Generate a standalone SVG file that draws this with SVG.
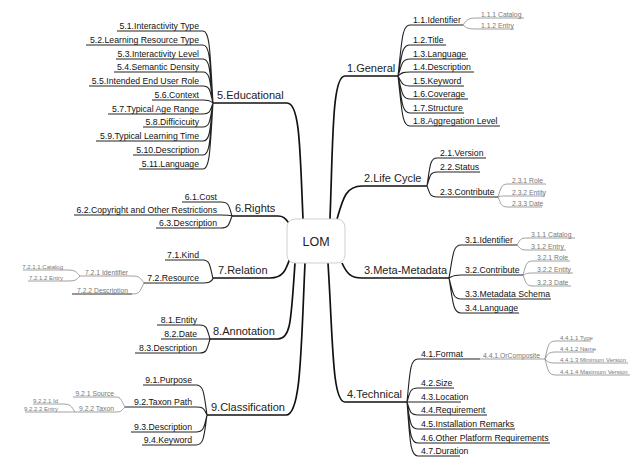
<svg xmlns="http://www.w3.org/2000/svg" width="635" height="457" viewBox="0 0 635 457">
<style>
text{font-family:"Liberation Sans",Arial,sans-serif}
.m{font-size:11px;fill:#222}
.s{font-size:8.7px;fill:#111}
.ss{font-size:6.8px;fill:#777}
.sm{font-size:6px;fill:#777}
.e{text-anchor:end}
.um{stroke:#111;stroke-width:1.7;fill:none}
.us{stroke:#222;stroke-width:1.1;fill:none}
.uss{stroke:#888;stroke-width:0.8;fill:none}
.cm{stroke:#111;stroke-width:1.7;fill:none}
.cs{stroke:#222;stroke-width:1.1;fill:none}
.css{stroke:#888;stroke-width:0.8;fill:none}
</style>
<rect width="635" height="457" fill="#fff"/>
<g id="connectors">
<path class="cm" d="M330 219 C333 140 332 76 345 76"/>
<path class="cm" d="M337 219 C343 198 346 186 362 186"/>
<path class="cm" d="M342 263 C347 274 351 278 362 278"/>
<path class="cm" d="M328 263 C333 340 332 402 345 402"/>
<path class="cm" d="M303 219 C300 150 300 103 287 103"/>
<path class="cm" d="M289 223 C285 218 283 216 278 216"/>
<path class="cm" d="M290 258 C286 270 283 278 270 278"/>
<path class="cm" d="M295 263 C291 320 291 339 278 339"/>
<path class="cm" d="M305 263 C301 350 301 415 286 415"/>
<path class="cs" d="M398 76 C402 40 402 25 410 25 M398 76 C402 54 402 45 410 45 M398 76 C402 64 402 59 410 59 M398 76 C402 73 402 72 410 72 M398 76 C402 83 402 86 410 86 M398 76 C402 92 402 99 410 99 M398 76 C402 102 402 113 410 113 M398 76 C402 111 402 126 410 126"/>
<path class="css" d="M463 25 C467 20 467 18 477 18 M463 25 C467 28 467 29 477 29"/>
<path class="cs" d="M427 186 C430 166 430 158 437 158 M427 186 C430 176 430 172 437 172 M427 186 C430 194 430 197 437 197"/>
<path class="css" d="M498 197 C501 188 501 184 508 184 M498 197 C501 196 501 196 508 196 M498 197 C501 204 501 207 508 207"/>
<path class="cs" d="M449 278 C453 255 453 245 461 245 M449 278 C453 276 453 275 461 275 M449 278 C453 293 453 299 461 299 M449 278 C453 302 453 313 461 313"/>
<path class="css" d="M517 245 C520 240 520 238 527 238 M517 245 C520 248 520 250 527 250"/>
<path class="css" d="M523 275 C526 265 526 261 533 261 M523 275 C526 274 526 273 533 273 M523 275 C526 283 526 286 533 286"/>
<path class="cs" d="M407 402 C410 372 410 359 418 359 M407 402 C410 392 410 388 418 388 M407 402 C410 402 410 402 418 402 M407 402 C410 411 410 415 418 415 M407 402 C410 421 410 429 418 429 M407 402 C410 431 410 443 418 443 M407 402 C410 440 410 456 418 456"/>
<path class="css" d="M545 359 C548 346 548 341 556 341 M545 359 C548 354 548 352 556 352 M545 359 C548 362 548 363 556 363 M545 359 C548 370 548 375 556 375"/>
<path class="cs" d="M213 103 C210 53 210 31 203 31 M213 103 C210 62 210 45 203 45 M213 103 C210 72 210 59 203 59 M213 103 C210 81 210 72 203 72 M213 103 C210 91 210 86 203 86 M213 103 C210 101 210 100 203 100 M213 103 C210 111 210 114 203 114 M213 103 C210 120 210 127 203 127 M213 103 C210 130 210 141 203 141 M213 103 C210 139 210 155 203 155 M213 103 C210 149 210 169 203 169"/>
<path class="cs" d="M232 216 C229 206 229 202 221 202 M232 216 C229 215 229 215 221 215 M232 216 C229 224 229 228 221 228"/>
<path class="cs" d="M213 279 C210 266 210 260 203 260 M213 279 C210 282 210 283 203 283"/>
<path class="css" d="M144 283 C140 278 140 276 132 276 M144 283 C140 291 140 294 132 294"/>
<path class="css" d="M80 276 C76 272 76 270 67 270 M80 276 C76 280 76 281 67 281"/>
<path class="cs" d="M210 339 C207 329 207 325 200 325 M210 339 C207 339 207 339 200 339 M210 339 C207 349 207 353 200 353"/>
<path class="cs" d="M207 415 C204 394 204 385 196 385 M207 415 C204 409 204 407 196 407 M207 415 C204 427 204 432 196 432 M207 415 C204 436 204 445 196 445"/>
<path class="css" d="M125 407 C121 400 121 397 116 397 M125 407 C121 411 121 412 116 412"/>
<path class="css" d="M75 412 C71 406 71 404 62 404 M75 412 C71 412 71 412 62 412"/>
</g>
<g id="lom">
<rect x="287" y="219" width="58" height="44" rx="8" fill="#fff" stroke="#cfcfcf" stroke-width="1"/>
<text x="316" y="246" font-size="12.5" text-anchor="middle" fill="#222">LOM</text>
</g>
<g id="n1">
<path class="um" d="M345 76 H398"/><text class="m" x="347" y="72">1.General</text>
<path class="us" d="M410 25 H463"/><text class="s" x="413" y="23">1.1.Identifier</text>
<path class="uss" d="M477 18 H524"/><text class="ss" x="481" y="16.5">1.1.1 Catalog</text>
<path class="uss" d="M477 29 H514"/><text class="ss" x="481" y="27.5">1.1.2 Entry</text>
<path class="us" d="M410 45 H446"/><text class="s" x="413" y="43">1.2.Title</text>
<path class="us" d="M410 59 H468"/><text class="s" x="413" y="57">1.3.Language</text>
<path class="us" d="M410 72 H474"/><text class="s" x="413" y="70">1.4.Description</text>
<path class="us" d="M410 86 H464"/><text class="s" x="413" y="84">1.5.Keyword</text>
<path class="us" d="M410 99 H468"/><text class="s" x="413" y="97">1.6.Coverage</text>
<path class="us" d="M410 113 H464"/><text class="s" x="413" y="111">1.7.Structure</text>
<path class="us" d="M410 126 H500"/><text class="s" x="413" y="124">1.8.Aggregation Level</text>
</g>
<g id="n2">
<path class="um" d="M362 186 H427"/><text class="m" x="364" y="182">2.Life Cycle</text>
<path class="us" d="M437 158 H486"/><text class="s" x="440" y="156">2.1.Version</text>
<path class="us" d="M437 172 H480"/><text class="s" x="440" y="170">2.2.Status</text>
<path class="us" d="M437 197 H498"/><text class="s" x="440" y="195">2.3.Contribute</text>
<path class="uss" d="M508 184 H546"/><text class="ss" x="512" y="182.5">2.3.1 Role</text>
<path class="uss" d="M508 196 H545"/><text class="ss" x="512" y="194.5">2.3.2 Entity</text>
<path class="uss" d="M508 207 H542"/><text class="ss" x="512" y="205.5">2.3.3 Date</text>
</g>
<g id="n3">
<path class="um" d="M362 278 H449"/><text class="m" x="364" y="274">3.Meta-Metadata</text>
<path class="us" d="M461 245 H517"/><text class="s" x="465" y="243">3.1.Identifier</text>
<path class="uss" d="M527 238 H575"/><text class="ss" x="531" y="236.5">3.1.1 Catalog</text>
<path class="uss" d="M527 250 H566"/><text class="ss" x="531" y="248.5">3.1.2 Entry</text>
<path class="us" d="M461 275 H523"/><text class="s" x="465" y="273">3.2.Contribute</text>
<path class="uss" d="M533 261 H570"/><text class="ss" x="537" y="259.5">3.2.1 Role</text>
<path class="uss" d="M533 273 H573"/><text class="ss" x="537" y="271.5">3.2.2 Entity</text>
<path class="uss" d="M533 286 H571"/><text class="ss" x="537" y="284.5">3.2.3 Date</text>
<path class="us" d="M461 299 H551"/><text class="s" x="465" y="297">3.3.Metadata Schema</text>
<path class="us" d="M461 313 H519"/><text class="s" x="465" y="311">3.4.Language</text>
</g>
<g id="n4">
<path class="um" d="M345 402 H407"/><text class="m" x="347" y="398">4.Technical</text>
<path class="us" d="M418 359 H480"/><text class="s" x="421" y="357">4.1.Format</text>
<path class="uss" d="M480 359 H545"/><text class="ss" x="483" y="357.5">4.4.1.OrComposite</text>
<path class="uss" d="M556 341 H591"/><text class="sm" x="560" y="339.5">4.4.1.1 Type</text>
<path class="uss" d="M556 352 H594"/><text class="sm" x="560" y="350.5">4.4.1.2 Name</text>
<path class="uss" d="M556 363 H628"/><text class="sm" x="560" y="361.5">4.4.1.3 Minimum Version</text>
<path class="uss" d="M556 375 H630"/><text class="sm" x="560" y="373.5">4.4.1.4 Maximum Version</text>
<path class="us" d="M418 388 H454"/><text class="s" x="421" y="386">4.2.Size</text>
<path class="us" d="M418 402 H461"/><text class="s" x="421" y="400">4.3.Location</text>
<path class="us" d="M418 415 H487"/><text class="s" x="421" y="413">4.4.Requirement</text>
<path class="us" d="M418 429 H515"/><text class="s" x="421" y="427">4.5.Installation Remarks</text>
<path class="us" d="M418 443 H550"/><text class="s" x="421" y="441">4.6.Other Platform Requirements</text>
<path class="us" d="M418 456 H460"/><text class="s" x="421" y="454">4.7.Duration</text>
</g>
<g id="n5">
<path class="um" d="M213 103 H287"/><text class="m" x="217" y="99">5.Educational</text>
<path class="us" d="M117 31 H203"/><text class="s e" x="199" y="29">5.1.Interactivity Type</text>
<path class="us" d="M86 45 H203"/><text class="s e" x="199" y="43">5.2.Learning Resource Type</text>
<path class="us" d="M116 59 H203"/><text class="s e" x="199" y="57">5.3.Interactivity Level</text>
<path class="us" d="M114 72 H203"/><text class="s e" x="199" y="70">5.4.Semantic Density</text>
<path class="us" d="M89 86 H203"/><text class="s e" x="199" y="84">5.5.Intended End User Role</text>
<path class="us" d="M152 100 H203"/><text class="s e" x="199" y="98">5.6.Context</text>
<path class="us" d="M108 114 H203"/><text class="s e" x="199" y="112">5.7.Typical Age Range</text>
<path class="us" d="M143 127 H203"/><text class="s e" x="199" y="125">5.8.Difficicuity</text>
<path class="us" d="M96 141 H203"/><text class="s e" x="199" y="139">5.9.Typical Learning Time</text>
<path class="us" d="M133 155 H203"/><text class="s e" x="199" y="153">5.10.Description</text>
<path class="us" d="M139 169 H203"/><text class="s e" x="199" y="167">5.11.Language</text>
</g>
<g id="n6">
<path class="um" d="M232 216 H278"/><text class="m" x="235" y="212">6.Rights</text>
<path class="us" d="M182 202 H221"/><text class="s e" x="217" y="200">6.1.Cost</text>
<path class="us" d="M74 215 H221"/><text class="s e" x="217" y="213">6.2.Copyright and Other Restrictions</text>
<path class="us" d="M156 228 H221"/><text class="s e" x="217" y="226">6.3.Description</text>
</g>
<g id="n7">
<path class="um" d="M213 278 H270"/><text class="m" x="218" y="274">7.Relation</text>
<path class="us" d="M165 260 H203"/><text class="s e" x="199" y="258">7.1.Kind</text>
<path class="us" d="M144 283 H203"/><text class="s e" x="199" y="281">7.2.Resource</text>
<path class="uss" d="M80 276 H132"/><text class="ss e" x="128" y="274.5">7.2.1 Identifier</text>
<path class="us" d="M72 294 H132" style="stroke:#333"/><text class="ss e" x="128" y="292.5">7.2.2 Description</text>
<path class="uss" d="M23 270 H67"/><text class="sm e" x="63" y="268.5">7.2.1.1.Catalog</text>
<path class="uss" d="M28 281 H67"/><text class="sm e" x="63" y="279.5">7.2.1.2 Entry</text>
</g>
<g id="n8">
<path class="um" d="M210 339 H278"/><text class="m" x="213" y="335">8.Annotation</text>
<path class="us" d="M157 325 H200"/><text class="s e" x="197" y="323">8.1.Entity</text>
<path class="us" d="M161 339 H200"/><text class="s e" x="197" y="337">8.2.Date</text>
<path class="us" d="M135 353 H200"/><text class="s e" x="197" y="351">8.3.Description</text>
</g>
<g id="n9">
<path class="um" d="M207 415 H286"/><text class="m" x="211" y="411">9.Classification</text>
<path class="us" d="M143 385 H196"/><text class="s e" x="192" y="383">9.1.Purpose</text>
<path class="us" d="M125 407 H196"/><text class="s e" x="192" y="405">9.2.Taxon Path</text>
<path class="uss" d="M73 397 H116"/><text class="ss e" x="114" y="395.5">9.2.1 Source</text>
<path class="uss" d="M75 412 H116"/><text class="ss e" x="114" y="410.5">9.2.2 Taxon</text>
<path class="uss" d="M33 404 H62"/><text class="sm e" x="58" y="402.5">9.2.2.1 Id</text>
<path class="uss" d="M25 412 H62"/><text class="sm e" x="58" y="410.5">9.2.2.2 Entry</text>
<path class="us" d="M131 432 H196"/><text class="s e" x="192" y="430">9.3.Description</text>
<path class="us" d="M142 445 H196"/><text class="s e" x="192" y="443">9.4.Keyword</text>
</g>
</svg>
